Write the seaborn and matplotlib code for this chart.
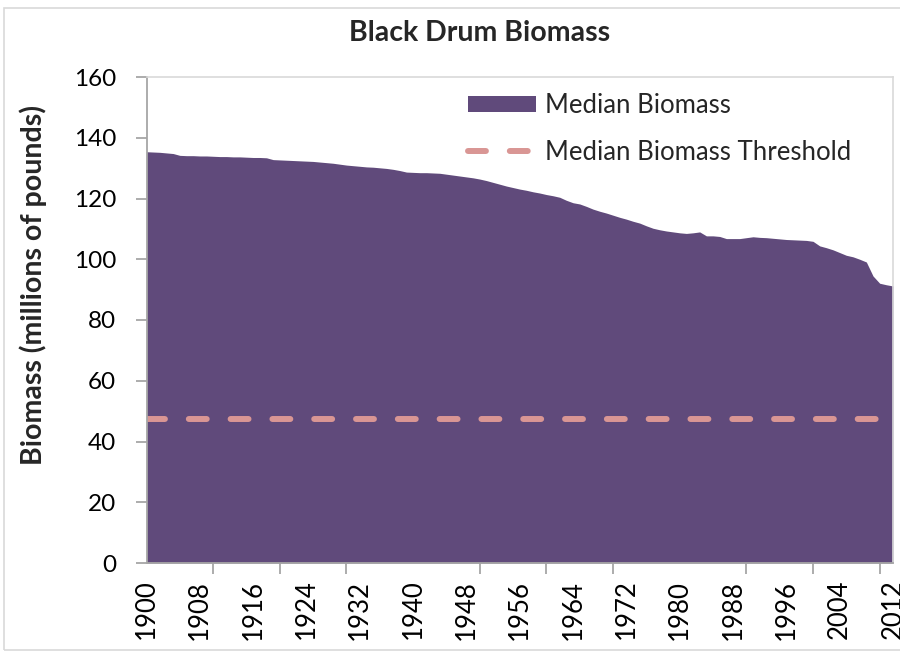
import numpy as np
import pandas as pd
import matplotlib
matplotlib.use("Agg")
import matplotlib.pyplot as plt
from matplotlib.patches import Rectangle
import seaborn as sns

# Median biomass (millions of pounds), one value per year 1900-2012
years = list(range(1900, 2013))
median_biomass = [
    135.4, 135.3, 135.2, 135.0, 134.8, 134.2, 134.1, 134.1, 134.0, 134.0,  # 1900s
    133.9, 133.8, 133.8, 133.7, 133.7, 133.6, 133.5, 133.5, 133.4, 132.8,  # 1910s
    132.7, 132.6, 132.5, 132.4, 132.3, 132.2, 132.0, 131.8, 131.6, 131.3,  # 1920s
    131.0, 130.8, 130.6, 130.4, 130.3, 130.1, 129.9, 129.6, 129.2, 128.7,  # 1930s
    128.6, 128.5, 128.5, 128.4, 128.3, 128.0, 127.7, 127.4, 127.1, 126.8,  # 1940s
    126.4, 125.9, 125.3, 124.7, 124.1, 123.6, 123.1, 122.7, 122.2, 121.8,  # 1950s
    121.3, 120.9, 120.4, 119.4, 118.6, 118.2, 117.4, 116.5, 115.8, 115.2,  # 1960s
    114.5, 113.8, 113.2, 112.5, 111.9, 111.0, 110.2, 109.7, 109.3, 109.0,  # 1970s
    108.7, 108.5, 108.7, 109.0, 107.7, 107.7, 107.5, 106.8, 106.8, 106.8,  # 1980s
    107.1, 107.4, 107.2, 107.1, 106.9, 106.7, 106.5, 106.4, 106.3, 106.2,  # 1990s
    105.9, 104.4, 103.8, 103.1, 102.2, 101.3, 100.8, 100.0, 99.1, 94.5,    # 2000s
    92.1, 91.6, 91.2,                                                       # 2010s
]
threshold = 47.5
label_years = list(range(1900, 2013, 8))   # tick labels every 8 years
mark_years = list(range(1900, 2011, 10))   # tick marks every 10 years
yticks = list(range(0, 161, 20))

df = pd.DataFrame({"year": years, "biomass": median_biomass,
                   "threshold": [threshold] * len(years)})

area_color = "#604A7B"
thr_color = "#D99694"
axis_gray = "#A6A6A6"
border_gray = "#D9D9D9"

sns.set_theme(style="ticks")
plt.rcParams["font.family"] = ["Lato", "DejaVu Sans"]

fig = plt.figure(figsize=(9, 6.51), dpi=100)
ax = fig.add_axes([146.5 / 900, 1 - 563 / 651, (893 - 146.5) / 900, (563 - 77) / 651])

# outer chart border
fig.patches.append(Rectangle((4 / 900, 1 - 650 / 651), 1.2, (650 - 8) / 651,
                             transform=fig.transFigure, fill=False,
                             edgecolor=border_gray, lw=1.2, zorder=0))

ax.fill_between(df["year"], df["biomass"], 0, color=area_color, lw=0,
                label="Median Biomass")
sns.lineplot(data=df, x="year", y="threshold", ax=ax, color=thr_color, lw=4.3,
             dashes=False, label="Median Biomass Threshold")
line = ax.lines[-1]
line.set_dashes((3, 4))
line.set_dash_capstyle("round")

ax.set_xlim(1900, 2012)
ax.set_ylim(0, 160)
ax.set_xticks(label_years)
ax.set_xticklabels([str(y) for y in label_years], rotation=90, fontsize=18.5)
ax.set_xticks(mark_years, minor=True)
ax.set_yticks(yticks)
ax.set_yticklabels([str(v) for v in yticks], fontsize=17.5)
ax.set_xlabel("")
ax.set_ylabel("")
ax.tick_params(axis="x", which="major", length=0, pad=12, labelcolor="black")
ax.tick_params(axis="x", which="minor", direction="out", length=8, width=1.3,
               color=axis_gray)
ax.tick_params(axis="y", direction="out", length=8, width=1.3, color=axis_gray,
               pad=14, labelcolor="black")

for side in ["left", "bottom"]:
    ax.spines[side].set_color(axis_gray)
    ax.spines[side].set_linewidth(1.3)
for side in ["top", "right"]:
    ax.spines[side].set_visible(True)
    ax.spines[side].set_color(border_gray)
    ax.spines[side].set_linewidth(1.2)

fig.text(480 / 900, 1 - 33 / 651, "Black Drum Biomass", ha="center", va="center",
         fontsize=20.5, fontweight="bold")
fig.text(33 / 900, 1 - 285 / 651, "Biomass (millions of pounds)", ha="center",
         va="center", rotation=90, fontsize=20.5, fontweight="bold")

leg = ax.legend(loc="upper left", bbox_to_anchor=(468 / 900, 1 - 93 / 651),
                bbox_transform=fig.transFigure, frameon=False, fontsize=18.5,
                handlelength=2.65, handleheight=0.62, labelspacing=0.84,
                handletextpad=0.35, borderaxespad=0, borderpad=0)

fig.savefig("out.png", dpi=100)
